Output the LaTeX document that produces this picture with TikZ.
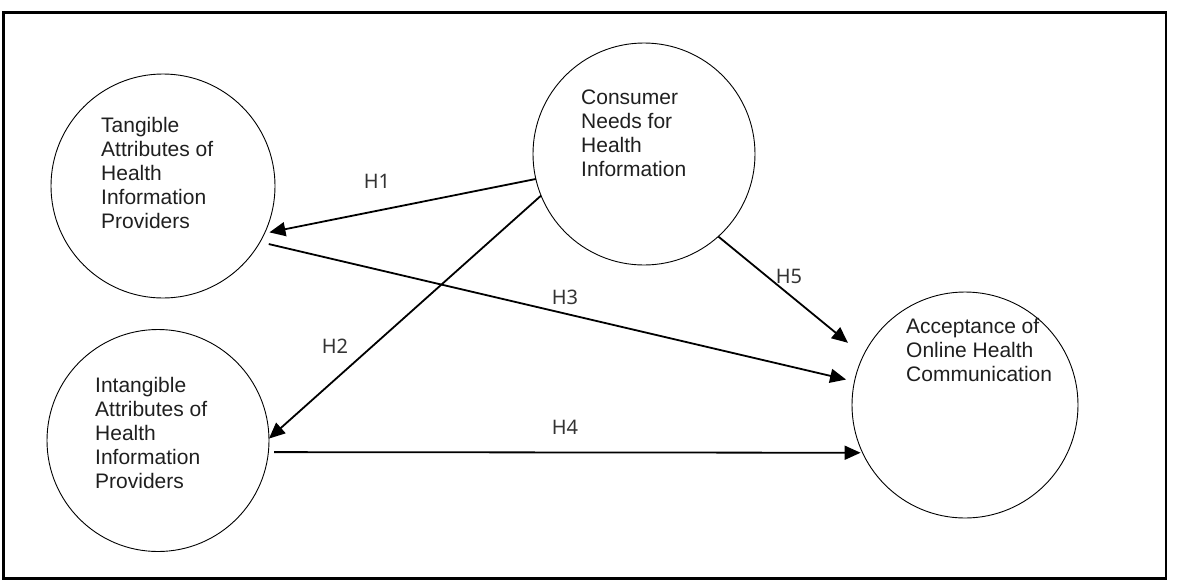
\documentclass[tikz,border=0pt]{standalone}
\usepackage{fontspec}
\setmainfont{Liberation Sans}
\newfontfamily\hfont{Noto Sans}
\usetikzlibrary{arrows.meta}
\begin{document}
\begin{tikzpicture}[x=1pt,y=-1pt,
  construct/.style={circle,draw,line width=0.9pt,inner sep=0pt,outer sep=0pt,minimum size=#1},
  ctext/.style={anchor=north west,inner sep=0pt,align=left,text=black!88,font=\fontsize{21}{24}\selectfont},
  hlab/.style={inner sep=0pt,text=black!80,font=\hfont\fontsize{20}{22}\selectfont},
  arr/.style={line width=1.8pt,-{Triangle[length=16pt,width=14pt]}}]
\useasboundingbox (0,0) rectangle (1187,582);
\draw[line width=2.8pt] (3.2,12.5) rectangle (1166,578.5);
% constructs
\node[construct=224pt] (tan) at (163,186) {};
\node[construct=222pt] (intan) at (158,440.5) {};
\node[construct=222pt] (cons) at (644,154) {};
\node[construct=226pt] (acc) at (965,405) {};
% texts
\node[ctext] (tantext) at (101,117) {Tangible\\Attributes of\\Health\\Information\\Providers};
\node[ctext] (intantext) at (95,377) {Intangible\\Attributes of\\Health\\Information\\Providers};
\node[ctext] (constext) at (581,90) {Consumer\\Needs for\\Health\\Information};
\node[ctext] (acctext) at (906,318) {Acceptance of\\Online Health\\Communication};
% hypotheses
\draw[arr,shorten >=5pt] (cons.193) -- (tan.-25);
\draw[arr] (cons.202) -- (intan.1);
\draw[arr,shorten <=9pt,shorten >=8.6pt] (tan.-30) -- (acc.168);
\draw[arr,shorten <=5.7pt,shorten >=2pt] (intan.-6) -- (acc.205);
\draw[arr,shorten >=20pt] (cons.-48) -- (acc.154);
% labels
\node[hlab] (h1) at (377,181) {H1};
\node[hlab] (h2) at (335,346) {H2};
\node[hlab] (h3) at (565,297) {H3};
\node[hlab] (h4) at (565,427) {H4};
\node[hlab] (h5) at (789,276) {H5};
\end{tikzpicture}
\end{document}
